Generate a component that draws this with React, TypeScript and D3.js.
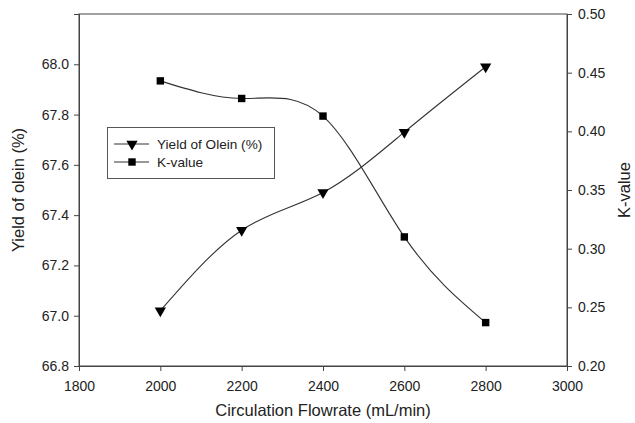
import * as d3 from "d3";
import React, { useRef, useEffect } from "react";

const flowrates = [2000, 2200, 2400, 2600, 2800];
const yieldOlein = [67.02, 67.34, 67.49, 67.73, 67.99];
const kValue = [0.443, 0.428, 0.413, 0.31, 0.237];
const xTicks = [1800, 2000, 2200, 2400, 2600, 2800, 3000];
const leftTicks = [66.8, 67.0, 67.2, 67.4, 67.6, 67.8, 68.0];
const rightTicks = [0.2, 0.25, 0.3, 0.35, 0.4, 0.45, 0.5];
const legendLabels = ["Yield of Olein (%)", "K-value"];

const W = 635;
const H = 423;
const m = { left: 79, right: 68, top: 14, bottom: 57 };
const font = "'Liberation Sans', Arial, sans-serif";

const App = () => {
  const ref = useRef(null);

  useEffect(() => {
    const svg = d3.select(ref.current);
    svg.selectAll("*").remove();

    const x = d3.scaleLinear().domain([1800, 3000]).range([m.left, W - m.right]);
    const yL = d3.scaleLinear().domain([66.8, 68.2]).range([H - m.bottom, m.top]);
    const yR = d3.scaleLinear().domain([0.2, 0.5]).range([H - m.bottom, m.top]);

    svg.append("rect").attr("width", W).attr("height", H).attr("fill", "#fff");

    // frame
    svg.append("rect")
      .attr("x", m.left).attr("y", m.top)
      .attr("width", W - m.left - m.right).attr("height", H - m.top - m.bottom)
      .attr("fill", "none").attr("stroke", "#444").attr("stroke-width", 1);

    const styleAxis = (g) => {
      g.selectAll("path").attr("stroke", "#444");
      g.selectAll("line").attr("stroke", "#444");
      g.selectAll("text").attr("font-family", font).attr("font-size", 14).attr("fill", "#222");
    };

    svg.append("g")
      .attr("transform", `translate(0,${H - m.bottom})`)
      .call(d3.axisBottom(x).tickValues(xTicks).tickFormat(d3.format("d")).tickSizeOuter(0).tickSize(5).tickPadding(10))
      .call(styleAxis);

    svg.append("g")
      .attr("transform", `translate(${m.left},0)`)
      .call(d3.axisLeft(yL).tickValues(leftTicks).tickFormat(d3.format(".1f")).tickSizeOuter(0).tickSize(5).tickPadding(5))
      .call(styleAxis);

    svg.append("g")
      .attr("transform", `translate(${W - m.right},0)`)
      .call(d3.axisRight(yR).tickValues(rightTicks).tickFormat(d3.format(".2f")).tickSizeOuter(0).tickSize(5).tickPadding(6))
      .call(styleAxis);

    // axis titles
    svg.append("text")
      .attr("x", (m.left + W - m.right) / 2).attr("y", 416)
      .attr("text-anchor", "middle")
      .attr("font-family", font).attr("font-size", 16.5).attr("fill", "#222")
      .text("Circulation Flowrate (mL/min)");

    svg.append("text")
      .attr("transform", `translate(24,${(m.top + H - m.bottom) / 2}) rotate(-90)`)
      .attr("text-anchor", "middle")
      .attr("font-family", font).attr("font-size", 16.5).attr("fill", "#222")
      .text("Yield of olein (%)");

    svg.append("text")
      .attr("transform", `translate(630,${(m.top + H - m.bottom) / 2}) rotate(-90)`)
      .attr("text-anchor", "middle")
      .attr("font-family", font).attr("font-size", 16.5).attr("fill", "#222")
      .text("K-value");

    const triangle = d3.symbol().type(d3.symbolTriangle).size(55);
    const square = d3.symbol().type(d3.symbolSquare).size(55);

    const lineL = d3.line().x((d, i) => x(flowrates[i])).y((d) => yL(d)).curve(d3.curveNatural);
    const lineR = d3.line().x((d, i) => x(flowrates[i])).y((d) => yR(d)).curve(d3.curveNatural);

    svg.append("path").datum(yieldOlein).attr("d", lineL)
      .attr("fill", "none").attr("stroke", "#333").attr("stroke-width", 1.1);
    svg.append("path").datum(kValue).attr("d", lineR)
      .attr("fill", "none").attr("stroke", "#333").attr("stroke-width", 1.1);

    svg.append("g").selectAll("path").data(yieldOlein).enter().append("path")
      .attr("d", triangle)
      .attr("transform", (d, i) => `translate(${x(flowrates[i])},${yL(d)}) rotate(180)`)
      .attr("fill", "#000");

    svg.append("g").selectAll("path").data(kValue).enter().append("path")
      .attr("d", square)
      .attr("transform", (d, i) => `translate(${x(flowrates[i])},${yR(d)})`)
      .attr("fill", "#000");

    // legend
    const lg = svg.append("g");
    lg.append("rect").attr("x", 107.5).attr("y", 127.5).attr("width", 167).attr("height", 51)
      .attr("fill", "#fff").attr("stroke", "#555").attr("stroke-width", 1);
    legendLabels.forEach((label, i) => {
      const cy = 144 + i * 18;
      lg.append("line").attr("x1", 114).attr("x2", 149).attr("y1", cy).attr("y2", cy)
        .attr("stroke", "#333").attr("stroke-width", 1.1);
      lg.append("path").attr("d", i === 0 ? triangle : square)
        .attr("transform", `translate(132,${cy})${i === 0 ? " rotate(180)" : ""}`)
        .attr("fill", "#000");
      lg.append("text").attr("x", 157).attr("y", cy + 5)
        .attr("font-family", font).attr("font-size", 13.6).attr("fill", "#222")
        .text(label);
    });
  }, []);

  return (
    <svg ref={ref} width={W} height={H} style={{ position: "absolute", left: 0, top: 0 }} />
  );
};

export default App;
